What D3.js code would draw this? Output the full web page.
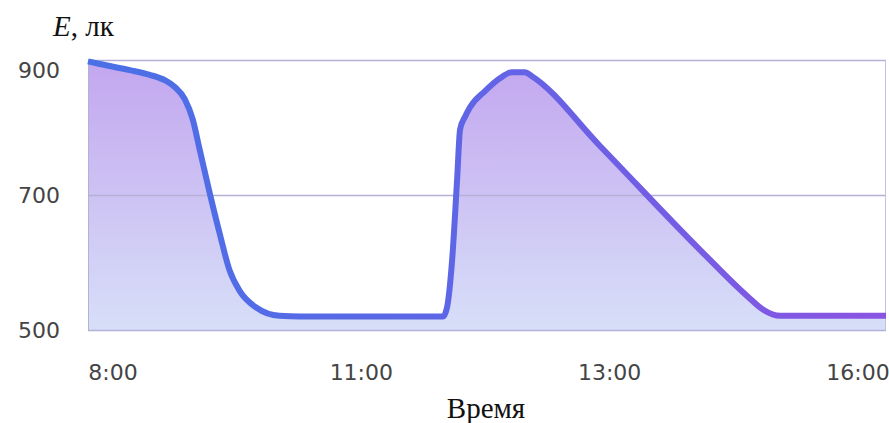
<!DOCTYPE html>
<html><head><meta charset="utf-8">
<script src="https://cdn.jsdelivr.net/npm/d3@7/dist/d3.min.js"></script>
<style>
html,body{margin:0;padding:0;background:#fff;}
svg{display:block;}
</style></head>
<body>
<svg id="chart" width="889" height="423"></svg>
<script>
// time in hours, illuminance in lux
const hours = [8.00, 8.12, 8.42, 8.62, 8.77, 8.87, 8.97, 9.05, 9.12, 9.22, 9.32, 9.42, 9.52, 9.69, 9.92, 10.13,
  11.56, 11.60, 11.65, 11.70, 11.73, 11.78, 11.83, 11.98, 12.13, 12.25, 12.38, 12.45, 13.13, 14.14, 14.64, 14.77, 14.94, 16.00];
const lux = [898, 894, 885, 878, 870, 860, 842, 812, 767, 703, 643, 588, 558, 533, 521, 520,
  520, 534, 603, 722, 797, 816, 830, 854, 873, 882, 882, 876, 773, 618, 546, 530, 521, 521];
const yTicks = [500, 700, 900];
const xTickLabels = ["8:00", "11:00", "13:00", "16:00"];
const data = hours.map((h, i) => ({h, v: lux[i]}));

const svg = d3.select("#chart");
const L = 88, R = 886, T = 60, B = 330;

const x = d3.scaleLinear().domain([8, 16]).range([L, R]);
const y = d3.scaleLinear().domain([500, 900]).range([B, T]);
const xLab = d3.scalePoint().domain(xTickLabels).range([113, 858]);

const defs = svg.append("defs");
const fg = defs.append("linearGradient").attr("id", "fillG")
  .attr("x1", 0).attr("y1", 0).attr("x2", 0).attr("y2", 1)
  .attr("gradientUnits", "userSpaceOnUse")
  .attr("x1", 0).attr("y1", T).attr("x2", 0).attr("y2", B);
fg.append("stop").attr("offset", "0%").attr("stop-color", "#c3a6ef");
fg.append("stop").attr("offset", "100%").attr("stop-color", "#d7dff8");

const lg = defs.append("linearGradient").attr("id", "lineG")
  .attr("gradientUnits", "userSpaceOnUse")
  .attr("x1", L).attr("y1", 0).attr("x2", R).attr("y2", 0);
lg.append("stop").attr("offset", "0%").attr("stop-color", "#4a70e6");
lg.append("stop").attr("offset", "45%").attr("stop-color", "#5d66e6");
lg.append("stop").attr("offset", "100%").attr("stop-color", "#8a54e2");

// area
const area = d3.area().x(d => x(d.h)).y0(y(500)).y1(d => y(d.v)).curve(d3.curveMonotoneX);
svg.append("path").datum(data).attr("d", area).attr("fill", "url(#fillG)");

// grid lines
svg.append("g").selectAll("line").data(yTicks).join("line")
  .attr("x1", L).attr("x2", R)
  .attr("y1", d => y(d) + 0.5).attr("y2", d => y(d) + 0.5)
  .attr("stroke", "#b4b0d8").attr("stroke-width", 1.5);
// side borders
svg.append("line").attr("x1", L + 0.5).attr("x2", L + 0.5).attr("y1", y(900)).attr("y2", y(500))
  .attr("stroke", "#b4b0d8").attr("stroke-width", 1);
svg.append("line").attr("x1", R - 0.5).attr("x2", R - 0.5).attr("y1", y(900)).attr("y2", y(500))
  .attr("stroke", "#c4c0e0").attr("stroke-width", 1);

// line
const line = d3.line().x(d => x(d.h)).y(d => y(d.v)).curve(d3.curveMonotoneX);
svg.append("path").datum(data).attr("d", line)
  .attr("fill", "none").attr("stroke", "url(#lineG)")
  .attr("stroke-width", 6).attr("stroke-linejoin", "round").attr("stroke-linecap", "butt");

// y tick labels
svg.append("g").selectAll("text").data(yTicks).join("text")
  .attr("x", 39).attr("y", d => d === 900 ? y(d) + 10 : y(d))
  .attr("dy", "0.36em").attr("text-anchor", "middle")
  .attr("font-family", "DejaVu Sans, sans-serif").attr("font-size", 22)
  .attr("fill", "#444").text(d => d);

// x tick labels
svg.append("g").selectAll("text").data(xTickLabels).join("text")
  .attr("x", d => xLab(d)).attr("y", 372)
  .attr("dy", "0.36em").attr("text-anchor", "middle")
  .attr("font-family", "DejaVu Sans, sans-serif").attr("font-size", 22)
  .attr("fill", "#444").text(d => d);

// axis titles
const yt = svg.append("text").attr("x", 53).attr("y", 36)
  .attr("font-family", "Liberation Serif, Times New Roman, serif").attr("font-size", 29).attr("fill", "#111");
yt.append("tspan").attr("font-style", "italic").text("E");
yt.append("tspan").text(", лк");

svg.append("text").attr("x", 486).attr("y", 418).attr("text-anchor", "middle")
  .attr("font-family", "Liberation Serif, Times New Roman, serif").attr("font-size", 29).attr("fill", "#111")
  .text("Время");
</script>
</body></html>
